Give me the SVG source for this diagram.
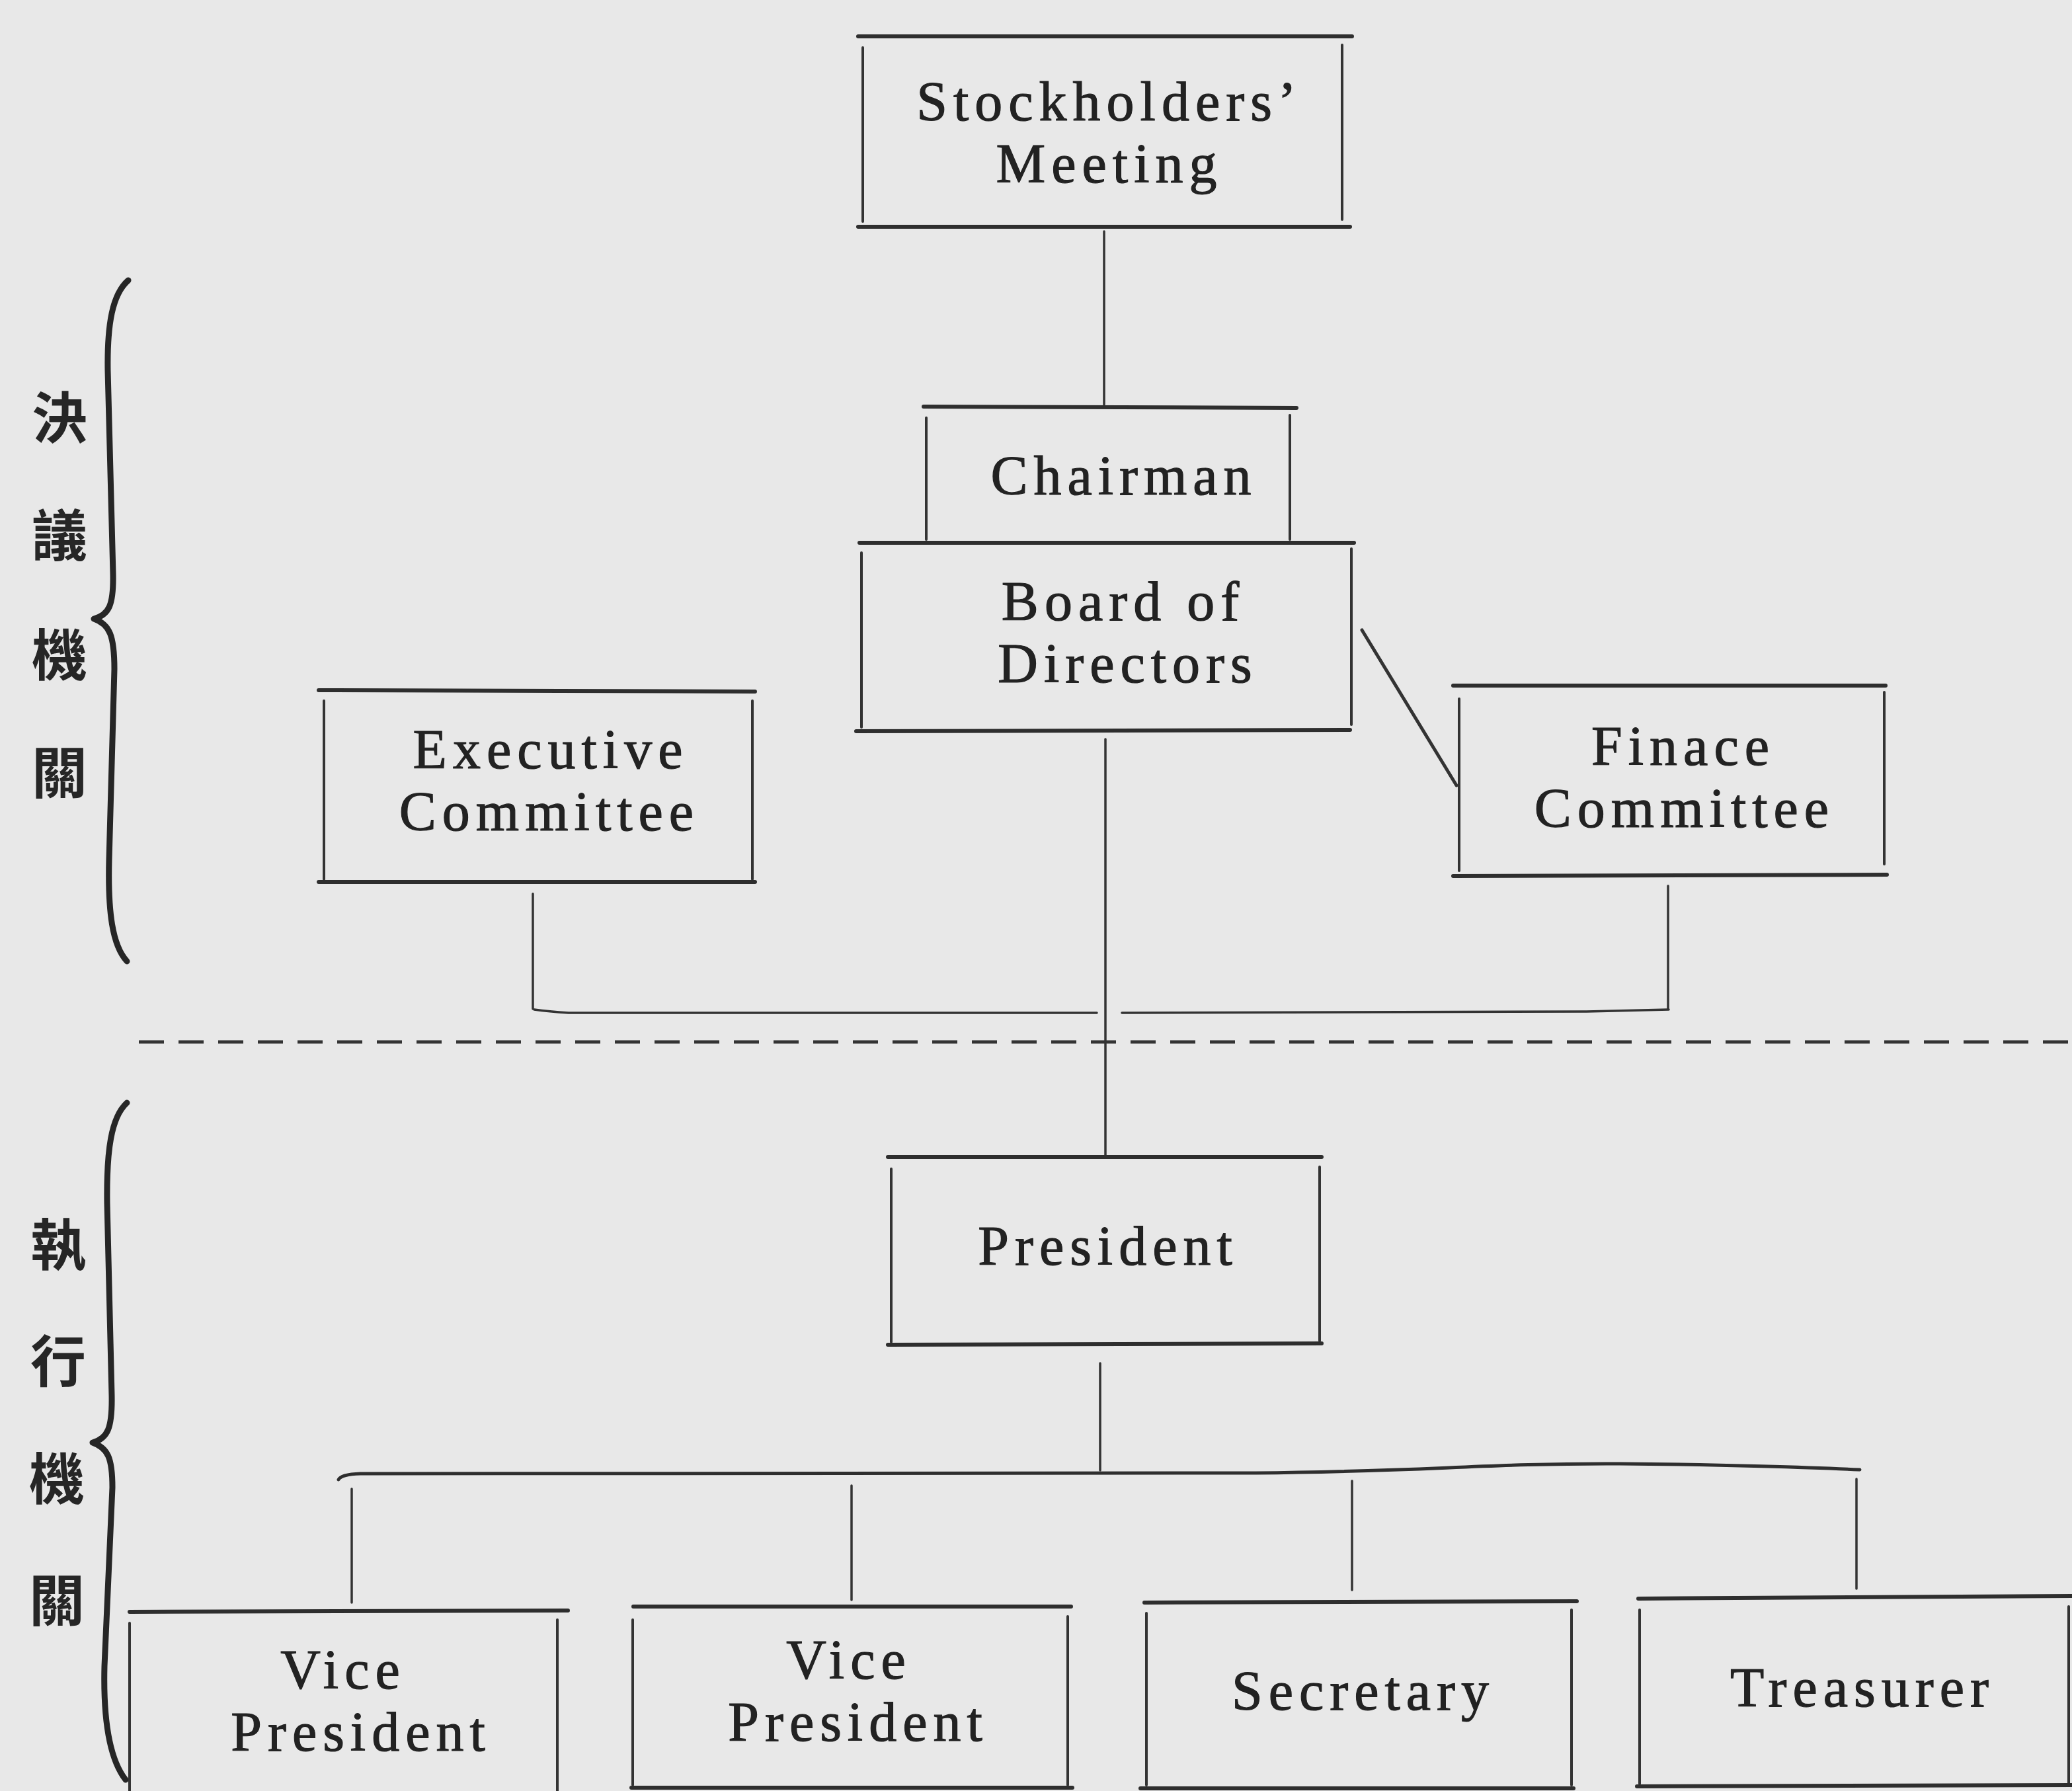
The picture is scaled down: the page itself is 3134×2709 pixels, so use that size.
<svg xmlns="http://www.w3.org/2000/svg" width="3134" height="2709" viewBox="0 0 3134 2709">
<style>
.bg{fill:#e8e8e8}
.h{stroke:#2e2e2e;stroke-width:6;fill:none;stroke-linecap:round}
.v{stroke:#333;stroke-width:4;fill:none;stroke-linecap:round}
.c{stroke:#333;stroke-width:3.5;fill:none;stroke-linecap:round}
.dash{stroke:#333;stroke-width:5;fill:none;stroke-dasharray:38 22}
.brace{stroke:#262626;stroke-width:9;fill:none;stroke-linecap:round;stroke-linejoin:round}
.t{font-family:"Liberation Serif","Times New Roman",serif;font-size:84px;letter-spacing:9px;fill:#222;stroke:#222;stroke-width:1.2;text-anchor:middle}
.k{font-family:"Noto Sans CJK TC","Noto Sans CJK JP",sans-serif;font-size:84px;font-weight:bold;fill:#262626;text-anchor:middle}
</style>
<rect class="bg" x="0" y="0" width="3134" height="2709"/>

<g id="side-labels">
<path class="brace" d="M194 424 C170 445 162 490 163 560 L171 868 C172 915 165 930 142 936 C166 944 173 962 173 1012 L165 1300 C163 1380 170 1430 192 1454"/>
<path class="brace" d="M192 1668 C168 1690 161 1740 162 1820 L169 2110 C170 2160 163 2176 140 2182 C163 2190 170 2205 170 2250 L158 2520 C156 2600 165 2660 190 2692"/>
<text class="k" x="90" y="663">決</text>
<text class="k" x="90" y="841">議</text>
<text class="k" x="90" y="1022">機</text>
<text class="k" x="90" y="1200">關</text>
<text class="k" x="88" y="1914">執</text>
<text class="k" x="88" y="2090">行</text>
<text class="k" x="86" y="2268">機</text>
<text class="k" x="86" y="2452">關</text>
</g>

<g id="connectors">
<line class="c" x1="1670" y1="350" x2="1670" y2="612"/>
<line class="c" x1="1672" y1="1118" x2="1672" y2="1748"/>
<line class="c" style="stroke-width:5" x1="2060" y1="953" x2="2203" y2="1188"/>
<line class="c" x1="806" y1="1352" x2="806" y2="1526"/>
<path class="c" d="M808 1527 Q830 1530 860 1532 L1659 1532"/>
<path class="c" d="M1697 1532 L2400 1530 L2524 1527"/>
<line class="c" x1="2523" y1="1340" x2="2523" y2="1526"/>
<line class="dash" x1="210" y1="1576" x2="3134" y2="1576"/>
<line class="c" x1="1664" y1="2062" x2="1664" y2="2224"/>
<path class="h" style="stroke-width:5" d="M512 2238 Q516 2230 545 2229 L1900 2228 C2150 2226 2250 2213 2450 2214 C2600 2215 2750 2220 2813 2223"/>
<line class="c" x1="532" y1="2252" x2="532" y2="2424"/>
<line class="c" x1="1288" y1="2247" x2="1288" y2="2420"/>
<line class="c" x1="2045" y1="2240" x2="2045" y2="2405"/>
<line class="c" x1="2808" y1="2237" x2="2808" y2="2403"/>
</g>

<g id="stockholders">
<line class="h" x1="1298" y1="55" x2="2045" y2="55"/>
<line class="v" x1="1305" y1="72" x2="1305" y2="335"/>
<line class="v" x1="2030" y1="68" x2="2030" y2="332"/>
<line class="h" x1="1298" y1="343" x2="2042" y2="343"/>
<text class="t"><tspan x="1678" y="182">Stockholders’</tspan><tspan x="1678" y="276">Meeting</tspan></text>
</g>

<g id="chairman">
<line class="h" x1="1397" y1="615" x2="1961" y2="617"/>
<line class="v" x1="1401" y1="632" x2="1401" y2="816"/>
<line class="v" x1="1951" y1="628" x2="1951" y2="816"/>
<text class="t" x="1700" y="748">Chairman</text>
</g>

<g id="board">
<line class="h" x1="1300" y1="821" x2="2048" y2="821"/>
<line class="v" x1="1303" y1="836" x2="1303" y2="1100"/>
<line class="v" x1="2044" y1="830" x2="2044" y2="1096"/>
<line class="h" x1="1295" y1="1106" x2="2042" y2="1104"/>
<text class="t"><tspan x="1699" y="938">Board of</tspan><tspan x="1706" y="1032">Directors</tspan></text>
</g>

<g id="executive">
<line class="h" x1="482" y1="1044" x2="1142" y2="1046"/>
<line class="v" x1="490" y1="1060" x2="490" y2="1330"/>
<line class="v" x1="1138" y1="1060" x2="1138" y2="1330"/>
<line class="h" x1="482" y1="1334" x2="1142" y2="1334"/>
<text class="t"><tspan x="833" y="1162">Executive</tspan><tspan x="831" y="1256">Committee</tspan></text>
</g>

<g id="finance">
<line class="h" x1="2198" y1="1037" x2="2852" y2="1037"/>
<line class="v" x1="2207" y1="1057" x2="2207" y2="1317"/>
<line class="v" x1="2850" y1="1047" x2="2850" y2="1307"/>
<line class="h" x1="2198" y1="1325" x2="2854" y2="1323"/>
<text class="t"><tspan x="2546" y="1157">Finace</tspan><tspan x="2548" y="1251">Committee</tspan></text>
</g>

<g id="president">
<line class="h" x1="1343" y1="1750" x2="1999" y2="1750"/>
<line class="v" x1="1348" y1="1768" x2="1348" y2="2030"/>
<line class="v" x1="1996" y1="1765" x2="1996" y2="2028"/>
<line class="h" x1="1343" y1="2034" x2="1999" y2="2032"/>
<text class="t" x="1676" y="1913">President</text>
</g>

<g id="vice-president-1">
<line class="h" x1="196" y1="2438" x2="859" y2="2436"/>
<line class="v" x1="196" y1="2455" x2="196" y2="2712"/>
<line class="v" x1="843" y1="2450" x2="843" y2="2712"/>
<text class="t"><tspan x="519" y="2554">Vice</tspan><tspan x="546" y="2648">President</tspan></text>
</g>

<g id="vice-president-2">
<line class="h" x1="958" y1="2430" x2="1620" y2="2430"/>
<line class="v" x1="957" y1="2450" x2="957" y2="2700"/>
<line class="v" x1="1615" y1="2445" x2="1615" y2="2700"/>
<line class="h" x1="955" y1="2704" x2="1622" y2="2704"/>
<text class="t"><tspan x="1284" y="2539">Vice</tspan><tspan x="1298" y="2633">President</tspan></text>
</g>

<g id="secretary">
<line class="h" x1="1731" y1="2424" x2="2385" y2="2422"/>
<line class="v" x1="1734" y1="2440" x2="1734" y2="2700"/>
<line class="v" x1="2377" y1="2435" x2="2377" y2="2700"/>
<line class="h" x1="1725" y1="2705" x2="2380" y2="2705"/>
<text class="t" x="2062" y="2586">Secretary</text>
</g>

<g id="treasurer">
<line class="h" x1="2478" y1="2418" x2="3134" y2="2414"/>
<line class="v" x1="2480" y1="2435" x2="2480" y2="2698"/>
<line class="v" x1="3129" y1="2430" x2="3129" y2="2698"/>
<line class="h" x1="2476" y1="2702" x2="3134" y2="2700"/>
<text class="t" x="2817" y="2581">Treasurer</text>
</g>
</svg>
